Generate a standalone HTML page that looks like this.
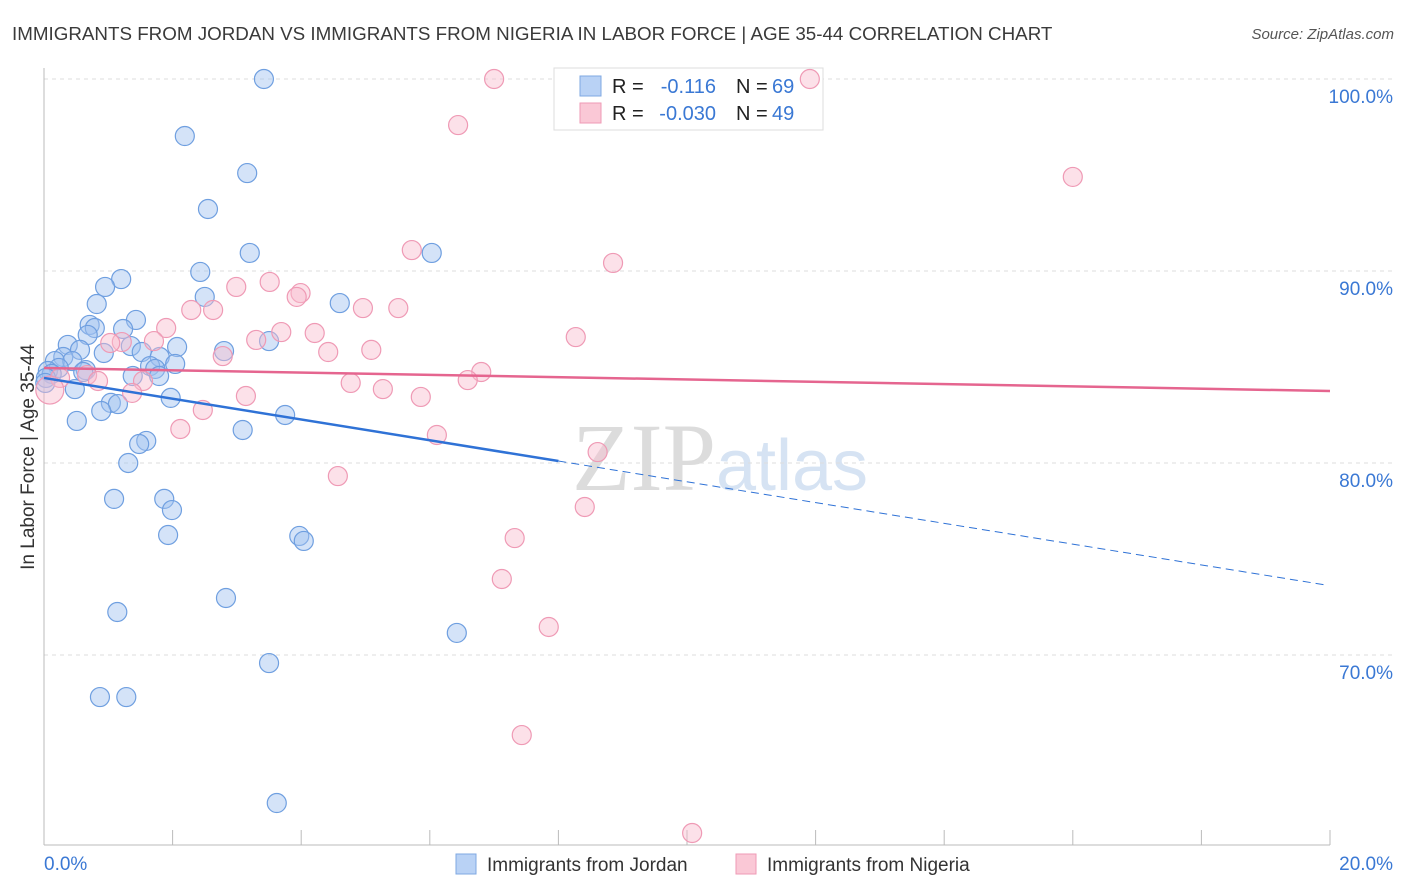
<!DOCTYPE html>
<html><head><meta charset="utf-8"><style>
body{margin:0;background:#fff;font-family:"Liberation Sans",sans-serif;}
#wrap{position:relative;width:1406px;height:892px;overflow:hidden;}
</style></head><body>
<div id="wrap">
<svg id="svg" width="1406" height="892" xmlns="http://www.w3.org/2000/svg">
<text x="12" y="40" font-size="18.8" fill="#3a3a3a">IMMIGRANTS FROM JORDAN VS IMMIGRANTS FROM NIGERIA IN LABOR FORCE | AGE 35-44 CORRELATION CHART</text>
<text x="1394" y="39" font-size="15" fill="#555" font-style="italic" text-anchor="end">Source: ZipAtlas.com</text>
<text x="34" y="457" font-size="19" fill="#333" text-anchor="middle" transform="rotate(-90 34 457)">In Labor Force | Age 35-44</text>
<text x="720" y="490" font-size="96" fill="#e2e2e2" text-anchor="middle" font-family="Liberation Serif,serif"><tspan fill="#dcdcdc">ZIP</tspan><tspan fill="#d6e3f3" font-family="Liberation Sans,sans-serif" font-size="72">atlas</tspan></text>
<g id="grid"></g><g id="axes"></g>
<g>
<rect x="554" y="68" width="269" height="62" fill="#fff" stroke="#ddd"/>
<rect x="580" y="76" width="21" height="20" fill="#b9d2f5" stroke="#7fa8e2"/>
<rect x="580" y="103" width="21" height="20" fill="#fac8d6" stroke="#ef9ab5"/>
<text x="612" y="93" font-size="20" fill="#222">R = </text><text x="716" y="93" font-size="20" fill="#3a78d4" text-anchor="end">-0.116</text>
<text x="736" y="93" font-size="20" fill="#222">N = </text><text x="772" y="93" font-size="20" fill="#3a78d4">69</text>
<text x="612" y="120" font-size="20" fill="#222">R = </text><text x="716" y="120" font-size="20" fill="#3a78d4" text-anchor="end">-0.030</text>
<text x="736" y="120" font-size="20" fill="#222">N = </text><text x="772" y="120" font-size="20" fill="#3a78d4">49</text>
</g>
<g id="pts"></g><g id="trend"></g>
<g>
<rect x="456" y="854" width="20" height="20" fill="#b9d2f5" stroke="#7fa8e2"/>
<text x="487" y="871" font-size="19" fill="#333">Immigrants from Jordan</text>
<rect x="736" y="854" width="20" height="20" fill="#fac8d6" stroke="#ef9ab5"/>
<text x="767" y="871" font-size="19" fill="#333">Immigrants from Nigeria</text>
</g>
</svg>
</div>
<script>
const yTicks=[100,90,80,70];
const xTickLabels=["0.0%","20.0%"];
const jordanX=[3.42,2.19,3.16,2.55,3.2,6.03,2.43,1.2,0.95,2.5,0.82,4.6,1.43,0.71,0.79,1.23,0.68,3.5,0.37,1.35,2.07,0.56,0.93,1.52,2.8,1.80,0.30,0.17,0.44,2.04,1.65,0.23,0.06,0.65,1.73,0.61,0.12,1.38,1.79,0.03,0.02,0.48,1.97,1.04,1.15,0.89,3.75,0.51,3.09,1.59,1.48,1.31,1.09,1.87,1.99,1.93,3.97,4.04,2.83,1.14,6.42,3.5,0.87,1.28,3.62];
const jordanY=[100,97.03,95.1,93.23,90.94,90.94,89.95,89.58,89.17,88.65,88.28,88.33,87.45,87.19,87.03,86.98,86.67,86.35,86.15,86.09,86.04,85.89,85.73,85.78,85.83,85.52,85.52,85.31,85.31,85.16,85.05,84.95,84.79,84.84,84.9,84.74,84.64,84.53,84.53,84.43,84.17,83.85,83.39,83.13,83.07,82.71,82.5,82.19,81.72,81.15,80.99,80.0,78.13,78.13,77.55,76.25,76.2,75.94,72.97,72.24,71.15,69.58,67.81,67.81,62.29];
const nigeriaX=[7.0,11.91,6.44,16.0,5.72,8.85,2.99,3.51,3.99,3.93,2.29,2.63,4.96,5.51,1.9,3.69,4.21,8.27,3.3,1.21,1.71,1.03,4.42,5.09,2.78,6.8,6.59,0.25,0.67,0.84,1.54,4.77,5.27,1.37,3.14,5.86,2.47,2.12,6.11,8.61,4.57,8.41,7.32,7.12,7.85,7.43,10.08,0.09];
const nigeriaY=[100,100,97.6,94.9,91.09,90.42,89.17,89.43,88.85,88.65,87.97,87.97,88.07,88.07,87.03,86.82,86.77,86.56,86.41,86.30,86.35,86.25,85.78,85.89,85.57,84.74,84.32,84.43,84.58,84.27,84.27,84.17,83.85,83.65,83.49,83.44,82.76,81.77,81.46,80.57,79.32,77.71,76.09,73.96,71.46,65.83,60.73,83.8];
const jordanTrend=[84.43,73.61];
const nigeriaTrend=[84.95,83.75];
const X=v=>44+v*64.3, Y=v=>79+(100-v)*19.2;
const NS="http://www.w3.org/2000/svg";
function mk(t,a,p){const e=document.createElementNS(NS,t);for(const k in a)e.setAttribute(k,a[k]);document.getElementById(p).appendChild(e);return e;}
yTicks.forEach(t=>{
 const l=mk('line',{x1:44,x2:1394,y1:Y(t),y2:Y(t),stroke:'#ddd','stroke-dasharray':'4,4'},'grid');
 
 
 const tx=mk('text',{x:1393,y:Y(t)+24,'font-size':19,fill:'#3a78d4','text-anchor':'end'},'axes');tx.textContent=t.toFixed(1)+'%';
 
 
});
mk('line',{x1:44,x2:44,y1:68,y2:845,stroke:'#bbb'},'axes');
mk('line',{x1:44,x2:1330,y1:845,y2:845,stroke:'#bbb'},'axes');
for(let i=0;i<=10;i++){mk('line',{x1:X(i*2),x2:X(i*2),y1:830,y2:845,stroke:'#bbb'},'axes');}
[[0,'start',44],[1,'end',1393]].forEach(([i,a,x])=>{const t=mk('text',{x:x,y:870,'font-size':19,fill:'#3a78d4','text-anchor':a},'axes');t.textContent=xTickLabels[i];
 
 });
jordanX.forEach((x,i)=>{const c=mk('circle',{cx:X(x),cy:Y(jordanY[i]),r:9.5,fill:'rgba(160,194,240,0.45)',stroke:'#6f9fe0','stroke-width':1.2},'pts');
 
 });
nigeriaX.forEach((x,i)=>{const c=mk('circle',{cx:X(x),cy:Y(nigeriaY[i]),r:i==nigeriaX.length-1?14:9.5,fill:'rgba(248,188,206,0.45)',stroke:'#ef9ab5','stroke-width':1.2},'pts');
 
 });
const bY=x=>jordanTrend[0]+(jordanTrend[1]-jordanTrend[0])*x/20;
let l1=mk('line',{x1:X(0),y1:Y(bY(0)),x2:X(8),y2:Y(bY(8)),stroke:'#2f72d6','stroke-width':2.5},'trend');


let l2=mk('line',{x1:X(8),y1:Y(bY(8)),x2:X(19.92),y2:Y(bY(19.92)),stroke:'#2f72d6','stroke-width':1,'stroke-dasharray':'8,5'},'trend');


let l3=mk('line',{x1:X(0),y1:Y(nigeriaTrend[0]),x2:X(20),y2:Y(nigeriaTrend[1]),stroke:'#e5658f','stroke-width':2.5},'trend');


</script>
</body></html>
